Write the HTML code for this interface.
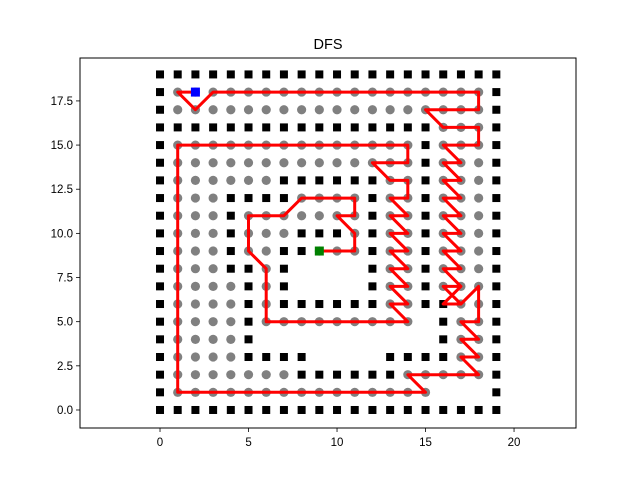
<!DOCTYPE html>
<html><head><meta charset="utf-8"><style>
body{margin:0;background:#fff;}
svg{display:block;font-family:"Liberation Sans","DejaVu Sans",sans-serif;}
</style></head><body>
<svg id="chart" width="640" height="480" viewBox="0 0 640 480">
<rect width="640" height="480" fill="#fff"/>
<text x="328" y="49" text-anchor="middle" font-size="14.5" fill="#000">DFS</text>
<g id="marks"></g>
<rect x="80" y="58" width="496" height="370" fill="none" stroke="#000" stroke-width="1"/>
<g id="axes"></g>
</svg>
<script>
const gridRows = [
"####################",
"#ooooooooooooooo...#",
"#ooooooo######ooooo#",
"#oooo####....####oo#",
"#oooo#..........#oo#",
"#oooo#ooooooooo.#oo#",
"#oooo#o######oo##oo#",
"#oooo#o#....#oo#ooo#",
"#ooo##o#....#oo#ooo#",
"#ooo#oo##Goo#oo#ooo#",
"#ooo#ooo###o#oo#ooo#",
"#ooo#ooooooo#oo#ooo#",
"#ooo####oooo#oo#ooo#",
"#oooooo######oo#ooo#",
"#oooooooooooooo#ooo#",
"#oooooooooooooo#ooo#",
"################ooo#",
"#oooooooooooooooooo#",
"#oSoooooooooooooooo#",
"####################"
]; // index = y value
const pathX = [2,1,2,3,18,18,15,16,18,18,16,17,16,17,16,17,16,17,16,17,16,17,16,17,16,17,16,17,16,17,16,17,18,18,17,18,17,18,17,18,14,15,1,1,14,14,12,13,14,14,13,14,13,14,13,14,13,14,13,14,13,14,13,14,6,6,5,5,7,8,11,11,10,11,11,9];
const pathY = [18,18,17,18,18,17,17,16,16,15,15,14,14,13,13,12,12,11,11,10,10,9,9,8,8,7,7,6,7,7,6,6,7,5,5,4,4,3,3,2,2,1,1,15,15,14,14,13,13,12,12,11,11,10,10,9,9,8,8,7,7,6,6,5,5,8,9,11,11,12,12,11,11,10,9,9];
const xTicks = [0,5,10,15,20];
const yTicks = [0,2.5,5,7.5,10,12.5,15,17.5];
const start = [2,18], goal = [9,9];

const X0=80,X1=576,Y0=58,Y1=428, xmin=-4.52,xmax=23.5,ymin=-1.02,ymax=19.93;
function sx(v){return X0+(v-xmin)/(xmax-xmin)*(X1-X0);}
function sy(v){return Y1-(v-ymin)/(ymax-ymin)*(Y1-Y0);}
const NS="http://www.w3.org/2000/svg";
const marks=document.getElementById('marks'), axes=document.getElementById('axes');
function mk(tag,attrs,parent){const e=document.createElementNS(NS,tag);for(const k in attrs)e.setAttribute(k,attrs[k]);parent.appendChild(e);return e;}

// Walls and visited cells
for(let y=0;y<gridRows.length;y++){
  const row=gridRows[y];
  for(let x=0;x<row.length;x++){
    const c=row[x];
    if(c==='#'){
      const r=mk('rect',{x:sx(x)-4,y:sy(y)-4,width:8,height:8,fill:'#000'},marks);
      
      
    } else if(c==='o'||c==='S'||c==='G'){
      const ci=mk('circle',{cx:sx(x),cy:sy(y),r:4.6,fill:'#808080'},marks);
      
      
    }
  }
}
// Path
let d='';
for(let i=0;i<pathX.length;i++){d+=(i?'L':'M')+sx(pathX[i]).toFixed(1)+' '+sy(pathY[i]).toFixed(1);}
const p=mk('path',{d:d,fill:'none',stroke:'#ff0000','stroke-width':3,'stroke-linejoin':'round','stroke-linecap':'square'},marks);


// start / goal
const s=mk('rect',{x:sx(start[0])-4.5,y:sy(start[1])-4.5,width:9,height:9,fill:'#0000ff'},marks);


const g=mk('rect',{x:sx(goal[0])-4.5,y:sy(goal[1])-4.5,width:9,height:9,fill:'#008000'},marks);



// Axes ticks
xTicks.forEach(v=>{
  const x=sx(v);
  const l=mk('line',{x1:x,x2:x,y1:Y1,y2:Y1+4,stroke:'#000','stroke-width':0.8},axes);
  
  
  const t=mk('text',{x:x,y:Y1+18,'text-anchor':'middle','font-size':'11.5',fill:'#000'},axes);
  t.textContent=String(v);
  
  
});
yTicks.forEach(v=>{
  const y=sy(v);
  const l=mk('line',{x1:X0-4,x2:X0,y1:y,y2:y,stroke:'#000','stroke-width':0.8},axes);
  
  
  const t=mk('text',{x:X0-7,y:y+4,'text-anchor':'end','font-size':'11.5',fill:'#000'},axes);
  t.textContent=v.toFixed(1);
  
  
});
</script>
</body></html>
